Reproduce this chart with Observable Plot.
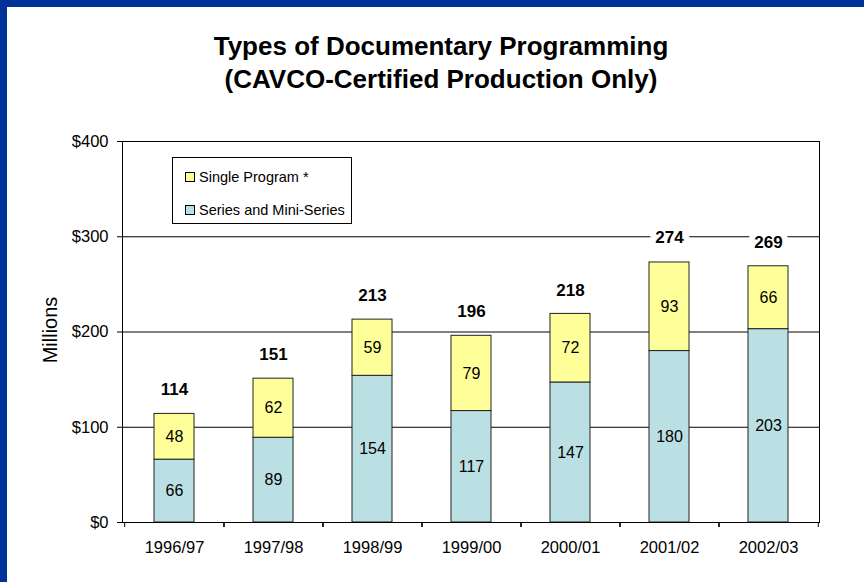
<!DOCTYPE html>
<html>
<head>
<meta charset="utf-8">
<script src="https://cdn.jsdelivr.net/npm/d3@7"></script>
<script src="https://cdn.jsdelivr.net/npm/@observablehq/plot@0.6"></script>
<style>
  html, body { margin: 0; padding: 0; background: #fff; }
  #wrap { position: relative; width: 864px; height: 582px; overflow: hidden; background: #fff;
          border-top: 7px solid #003399; border-left: 7px solid #003399; box-sizing: border-box; }
  #title { position: absolute; left: 134px; top: 23px; width: 600px; text-align: center;
           font-family: "Liberation Sans", Arial, sans-serif; font-weight: bold; font-size: 26px; line-height: 33px; color: #000; }
  #chart { position: absolute; left: 0px; top: 93px; }
  #ylabel { position: absolute; left: 43px; top: 322.5px; width: 0; height: 0; z-index: 2; }
  #ylabel span { position: absolute; left: 0; top: 0; transform: translate(-50%, -50%) rotate(-90deg); white-space: nowrap;
           font-family: "Liberation Sans", Arial, sans-serif; font-size: 20px; color: #000; }
  #legend { position: absolute; left: 165px; top: 150px; width: 178px; height: 65px; border: 1px solid #000; background: #fff;
            font-family: "Liberation Sans", Arial, sans-serif; font-size: 14.5px; color: #000; z-index: 2; }
  .item { position: absolute; left: 12px; display: flex; align-items: center; white-space: nowrap; }
  .sw { width: 8px; height: 8px; border: 1px solid #000; margin-right: 4px; }
</style>
</head>
<body>
<div id="wrap">
  <div id="title">Types of Documentary Programming<br>(CAVCO-Certified Production Only)</div>
  <div id="chart"></div>
  <div id="ylabel"><span>Millions</span></div>
  <div id="legend"></div>
</div>
<script>
const years = ["1996/97", "1997/98", "1998/99", "1999/00", "2000/01", "2001/02", "2002/03"];
const seriesValues = [66, 89, 154, 117, 147, 180, 203];
const singleValues = [48, 62, 59, 79, 72, 93, 66];
const totals = [114, 151, 213, 196, 218, 274, 269];
const types = ["Series and Mini-Series", "Single Program *"];
const typeColors = ["#BBE0E3", "#FFFF99"];
const yTicks = [0, 100, 200, 300, 400];
const gridValues = [100, 200, 300];

const rows = years.flatMap((yr, i) => [
  {year: yr, type: types[0], value: seriesValues[i]},
  {year: yr, type: types[1], value: singleValues[i]}
]);
const totalRows = years.map((yr, i) => ({year: yr, total: totals[i]}));

const W = 857, H = 482, ML = 115, MR = 45;
const step = (W - ML - MR) / years.length;

const chart = Plot.plot({
  width: W, height: H,
  marginTop: 41, marginRight: MR, marginBottom: 60, marginLeft: ML,
  style: {fontFamily: "'Liberation Sans', Arial, sans-serif", fontSize: "16px", color: "#000", background: "transparent"},
  x: {domain: years, paddingInner: 0.6, paddingOuter: 0.3, label: null},
  y: {domain: [0, 400], label: null},
  color: {domain: types, range: typeColors},
  marks: [
    Plot.gridY(gridValues, {stroke: "#000", strokeOpacity: 1}),
    Plot.barY(rows, {x: "year", y: "value", fill: "type", stroke: "#222", strokeWidth: 1}),
    Plot.text(rows, Plot.stackY({x: "year", y: "value", text: "value", fontSize: 16, fill: "#000"})),
    Plot.text(totalRows, {x: "year", y: "total", text: "total", dy: -24, fontWeight: "bold", fontSize: 17,
      fill: "#000", stroke: "#fff", strokeWidth: 12, strokeLinejoin: "round", paintOrder: "stroke"}),
    Plot.frame({stroke: "#000"}),
    Plot.axisY(yTicks, {tickSize: 5, tickPadding: 9, tickFormat: d => "$" + d, label: null, fontSize: 16.5}),
    Plot.axisX({tickSize: 0, tickPadding: 19, label: null, fontSize: 16.5}),
    Plot.axisX({tickSize: 5, tickFormat: () => "", dx: -step / 2, label: null}),
    Plot.axisX({tickSize: 5, tickFormat: () => "", dx: step / 2, label: null})
  ]
});
document.getElementById("chart").appendChild(chart);

const legend = document.getElementById("legend");
[[types[1], typeColors[1], 11], [types[0], typeColors[0], 44]].forEach(([label, color, top]) => {
  const it = document.createElement("div");
  it.className = "item";
  it.style.top = top + "px";
  const sw = document.createElement("div");
  sw.className = "sw";
  sw.style.background = color;
  const tx = document.createElement("span");
  tx.textContent = label;
  it.appendChild(sw); it.appendChild(tx);
  legend.appendChild(it);
});
</script>
</body>
</html>
